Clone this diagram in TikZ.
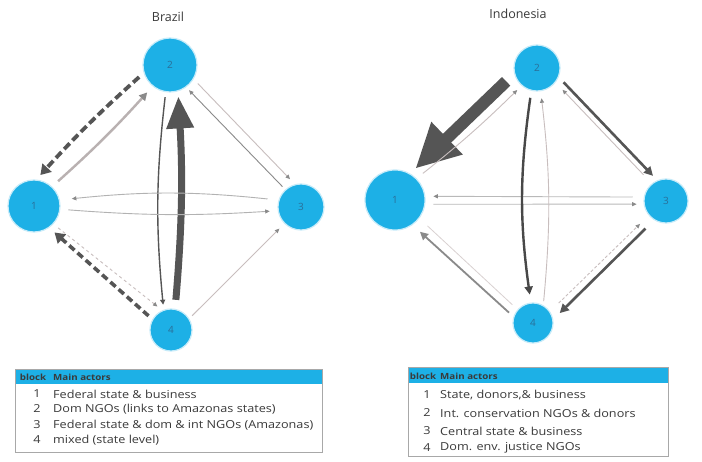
\documentclass[tikz,border=0pt]{standalone}
\usepackage{fontspec}
\setmainfont{Open Sans}
\newfontfamily\cellfont[FakeStretch=1.15]{Open Sans}
\usetikzlibrary{arrows.meta}
\definecolor{ncyan}{HTML}{1DB0E6}
\definecolor{ntext}{HTML}{2A6E98}
\definecolor{edark}{HTML}{555555}
\definecolor{emid}{HTML}{8A8A8A}
\definecolor{elight}{HTML}{C8BEBE}
\definecolor{tline}{HTML}{A8A8A8}
\definecolor{ttext}{HTML}{3A3A3A}
\tikzset{
  nd/.style={circle, fill=ncyan, draw=ncyan!25, line width=1.2pt, inner sep=0pt, font=\fontsize{10}{10}\selectfont, text=ntext},
  ttl/.style={font=\fontsize{12.5}{13}\selectfont, text=ttext},
  hdr/.style={font=\cellfont\fontsize{8.5}{9}\selectfont\bfseries, text=ttext, inner sep=0pt},
  cell/.style={font=\cellfont\fontsize{11}{11}\selectfont, text=ttext, inner sep=0pt},
  smalltip/.style={-{Triangle[width=4pt,length=4.5pt,color=emid]}},
  thinlight/.style={draw=elight, line width=0.9pt, smalltip},
  thinmid/.style={draw=emid, line width=0.9pt, smalltip},
  dashthick/.style={draw=edark, line width=3.8pt, dash pattern=on 8pt off 4pt, -{Triangle[width=12pt,length=10pt]}},
  meddark/.style={draw=edark, line width=2.6pt, -{Triangle[width=9pt,length=9pt]}},
}
\begin{document}
\begin{tikzpicture}[x=1pt,y=-1pt]
\useasboundingbox (0,0) rectangle (702,462);
\fill[white] (0,0) rectangle (702,462);

% ---------------- Brazil ----------------
\node[ttl] (tB) at (168,17) {Brazil};
\node[nd, minimum size=54pt] (B2) at (170,65) {2};
\node[nd, minimum size=52pt] (B1) at (34,206) {1};
\node[nd, minimum size=46pt] (B3) at (301,207) {3};
\node[nd, minimum size=42pt] (B4) at (171,330) {4};

\draw[dashthick, shorten <=6pt, shorten >=6pt] (B2.197) to[bend right=3] (B1.85);
\draw[draw=elight!80!gray, line width=2.4pt, -{Triangle[width=8pt,length=8pt,color=emid]}, shorten <=8pt, shorten >=8pt] (B1.47) to[bend right=3] (B2.231);
\draw[draw=edark, line width=7pt, -{Triangle[width=26pt,length=32pt]}, shorten <=9pt, shorten >=5pt] (B4.79) to[bend right=4] (B2.287);
\draw[draw=edark, line width=1.4pt, -{Triangle[width=5pt,length=5pt]}, shorten <=5pt, shorten >=5pt] (B2.261) to[bend right=6] (B4.110);
\draw[thinlight, shorten <=6pt, shorten >=7pt] (B2.329) to (B3.105);
\draw[thinmid, shorten <=4pt, shorten >=4pt] (B3.132) to (B2.306);
\draw[thinmid, draw=gray!60, shorten <=11pt, shorten >=12pt] (B3.163) to[bend right=6] (B1.13);
\draw[thinmid, draw=gray!60, shorten <=8pt, shorten >=8pt] (B1.353) to[bend right=4] (B3.189);
\draw[dashthick, line width=3.6pt, dash pattern=on 7pt off 4pt, shorten <=5pt, shorten >=7pt] (B4.150) to (B1.305);
\draw[thinlight, dash pattern=on 3pt off 3pt, shorten <=6pt, shorten >=6pt] (B1.317) to (B4.114);
\draw[thinlight, shorten <=4pt, shorten >=7pt] (B4.32) to (B3.225);

% ---------------- Indonesia ----------------
\node[ttl] (tI) at (518,14) {Indonesia};
\node[nd, minimum size=46pt] (I2) at (537,68) {2};
\node[nd, minimum size=60pt] (I1) at (395,200) {1};
\node[nd, minimum size=44pt] (I3) at (666,201) {3};
\node[nd, minimum size=40pt] (I4) at (533,323) {4};

\draw[draw=edark, line width=12pt, -{Triangle[width=42pt,length=44pt]}, shorten <=11pt, shorten >=7pt] (I2.194) to (I1.60.6);
\draw[thinlight, shorten <=8pt, shorten >=6pt] (I1.45) to[bend right=3] (I2.229);
\draw[meddark, shorten <=7pt, shorten >=6pt] (I2.337) to (I3.113);
\draw[thinlight, shorten <=12pt, shorten >=10pt] (I3.129) to (I2.322);
\draw[thinmid, draw=gray!55, shorten <=11pt, shorten >=8pt] (I3.170) to (I1.7.5);
\draw[thinmid, draw=gray!55, shorten <=8pt, shorten >=7pt] (I1.352.5) to (I3.188);
\draw[draw=edark!85!black, line width=2.4pt, -{Triangle[width=8pt,length=8pt]}, shorten <=7pt, shorten >=8pt] (I2.256) to[bend right=8] (I4.96);
\draw[thinlight, shorten <=4pt, shorten >=7pt] (I4.60) to[bend right=6] (I2.279.5);
\draw[draw=emid, line width=1.8pt, -{Triangle[width=8pt,length=8pt,color=emid]}, shorten <=6pt, shorten >=10pt] (I4.162) to (I1.305);
\draw[draw=elight!70, line width=0.8pt, shorten <=11pt, shorten >=7pt] (I1.323) to (I4.139);
\draw[meddark, shorten <=12pt, shorten >=9pt] (I3.238) to (I4.10);
\draw[thinlight, dash pattern=on 3pt off 2pt, shorten <=12pt, shorten >=12pt] (I4.34) to (I3.220);

% ---------------- Brazil table ----------------
\fill[ncyan] (15,369) rectangle (322,384);
\draw[tline, line width=0.6pt] (15,369) rectangle (322,452);
\node[hdr] (bh1) at (33,377) {block};
\node[hdr, anchor=west] (bh2) at (53,377) {Main actors};
\node[cell] (bn1) at (37,394) {1};
\node[cell, anchor=west] (bt1) at (53,394) {Federal state \& business};
\node[cell] (bn2) at (37,409) {2};
\node[cell, anchor=west] (bt2) at (53,409) {Dom NGOs (links to Amazonas states)};
\node[cell] (bn3) at (37,425) {3};
\node[cell, anchor=west] (bt3) at (53,425) {Federal state \& dom \& int NGOs (Amazonas)};
\node[cell] (bn4) at (37,440) {4};
\node[cell, anchor=west] (bt4) at (53,440) {mixed (state level)};

% ---------------- Indonesia table ----------------
\fill[ncyan] (408,367) rectangle (668,383);
\draw[tline, line width=0.6pt] (408,367) rectangle (668,456);
\node[hdr] (ih1) at (423,376) {block};
\node[hdr, anchor=west] (ih2) at (440,376) {Main actors};
\node[cell] (in1) at (427,395) {1};
\node[cell, anchor=west] (it1) at (440,395) {State, donors,\& business};
\node[cell] (in2) at (427,413) {2};
\node[cell, anchor=west] (it2) at (440,413) {Int. conservation NGOs \& donors};
\node[cell] (in3) at (427,431) {3};
\node[cell, anchor=west] (it3) at (440,431) {Central state \& business};
\node[cell] (in4) at (427,448) {4};
\node[cell, anchor=west] (it4) at (440,448) {Dom. env. justice NGOs};
\end{tikzpicture}
\end{document}
